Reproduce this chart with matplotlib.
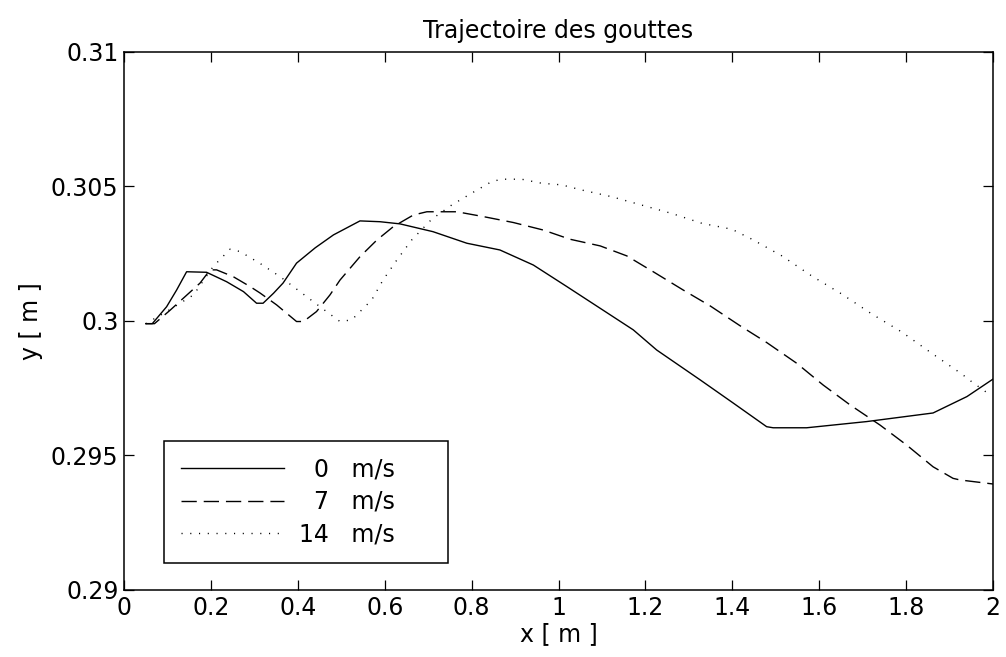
import numpy as np
import matplotlib
matplotlib.use("Agg")
import matplotlib.pyplot as plt

plt.rcParams['font.family'] = ['Liberation Sans Narrow', 'DejaVu Sans']

# 0 m/s
x_0 = [0.05, 0.065, 0.098, 0.121, 0.144, 0.19, 0.236, 0.275, 0.305, 0.32, 0.344, 0.366,
       0.397, 0.44, 0.482, 0.543, 0.589, 0.635, 0.711, 0.789, 0.865, 0.942, 1.019, 1.096,
       1.172, 1.226, 1.326, 1.402, 1.479, 1.494, 1.571, 1.709, 1.862, 1.94, 2.0]
y_0 = [0.2999, 0.2999, 0.30053, 0.30115, 0.30183, 0.30181, 0.30146, 0.30109, 0.30066,
       0.30066, 0.30103, 0.30141, 0.30215, 0.30272, 0.30320, 0.30372, 0.30369, 0.30361,
       0.30332, 0.30289, 0.30264, 0.30208, 0.30128, 0.30047, 0.29967, 0.29892, 0.29781,
       0.29695, 0.29607, 0.29603, 0.29603, 0.29626, 0.29658, 0.29719, 0.29784]

# 7 m/s
x_7 = [0.05, 0.07, 0.106, 0.175, 0.198, 0.213, 0.251, 0.29, 0.313, 0.351, 0.397, 0.413,
       0.443, 0.474, 0.497, 0.543, 0.582, 0.62, 0.666, 0.697, 0.766, 0.827, 0.896, 0.965,
       1.026, 1.096, 1.157, 1.218, 1.287, 1.349, 1.418, 1.479, 1.548, 1.609, 1.671, 1.74,
       1.801, 1.862, 1.908, 1.924, 2.0]
y_7 = [0.2999, 0.2999, 0.3004, 0.30141, 0.30190, 0.3019, 0.30165, 0.30128, 0.30104, 0.3006,
       0.29998, 0.29998, 0.30035, 0.30097, 0.30152, 0.30239, 0.30301, 0.30351, 0.30394,
       0.30406, 0.30406, 0.30388, 0.30366, 0.30338, 0.30304, 0.30279, 0.30242, 0.30183,
       0.30115, 0.30056, 0.29982, 0.29920, 0.29843, 0.29762, 0.29688, 0.29613, 0.29539,
       0.29458, 0.29415, 0.29409, 0.29394]

# 14 m/s
x_14 = [0.05, 0.098, 0.16, 0.205, 0.244, 0.267, 0.313, 0.359, 0.405, 0.451, 0.497, 0.524,
        0.547, 0.57, 0.596, 0.628, 0.662, 0.708, 0.754, 0.80, 0.846, 0.869, 0.915, 0.961,
        1.007, 1.053, 1.122, 1.191, 1.26, 1.33, 1.399, 1.445, 1.514, 1.583, 1.652, 1.721,
        1.79, 1.859, 1.928, 1.951, 1.997]
y_14 = [0.2999, 0.30035, 0.30097, 0.30202, 0.30267, 0.30258, 0.30214, 0.30165, 0.30109,
        0.30053, 0.29998, 0.30004, 0.30041, 0.30078, 0.30152, 0.30227, 0.30301, 0.30378,
        0.30431, 0.30475, 0.30518, 0.30527, 0.30527, 0.30512, 0.30506, 0.30487, 0.30462,
        0.30431, 0.30400, 0.30363, 0.30341, 0.30304, 0.30242, 0.30167, 0.30100, 0.30026,
        0.29959, 0.29880, 0.29803, 0.29774, 0.29721]

# trailing spaces mimic the wide right margin of the original legend box
labels = [u'\u20070   m/s     ', u'\u20077   m/s     ', u'14   m/s     ']
x_ticks = [0, 0.2, 0.4, 0.6, 0.8, 1, 1.2, 1.4, 1.6, 1.8, 2]
x_tick_labels = ['0', '0.2', '0.4', '0.6', '0.8', '1', '1.2', '1.4', '1.6', '1.8', '2']
y_ticks = [0.29, 0.295, 0.3, 0.305, 0.31]
y_tick_labels = ['0.29', '0.295', '0.3', '0.305', '0.31']

fig = plt.figure(figsize=(10.06, 6.57), dpi=100)
ax = fig.add_axes([0.1233, 0.102, 0.8638, 0.8189])

ax.plot(x_0, y_0, color='black', lw=1.0, linestyle='-', label=labels[0])
ax.plot(x_7, y_7, color='black', lw=1.0, dashes=(11, 5), label=labels[1])
ax.plot(x_14, y_14, color='black', lw=1.0, dashes=(0.8, 5.5), label=labels[2])

ax.set_xlim(0, 2)
ax.set_ylim(0.29, 0.31)
ax.set_xticks(x_ticks)
ax.set_xticklabels(x_tick_labels)
ax.set_yticks(y_ticks)
ax.set_yticklabels(y_tick_labels)
ax.tick_params(direction='in', length=7, width=0.9, top=True, right=True, labelsize=17, pad=4)
for s in ax.spines.values():
    s.set_linewidth(1.1)

ax.set_title('Trajectoire des gouttes', fontsize=17, pad=10)
ax.set_xlabel('x [ m ]', fontsize=17, labelpad=2)
ax.set_ylabel('y [ m ]', fontsize=17, labelpad=6)

leg = ax.legend(loc='lower left', bbox_to_anchor=(0.046, 0.05), borderaxespad=0,
                fontsize=17, handlelength=4.4, handletextpad=0.6, frameon=True,
                fancybox=False, edgecolor='black', framealpha=1, borderpad=0.7,
                labelspacing=0.37)
leg.get_frame().set_linewidth(1.1)

fig.savefig('out.png', dpi=100)
